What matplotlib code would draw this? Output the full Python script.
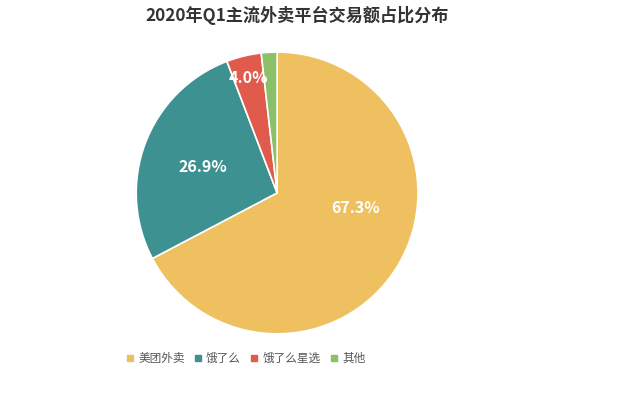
import numpy as np
import matplotlib
matplotlib.use('Agg')
import matplotlib.pyplot as plt

plt.rcParams['font.family'] = ['Noto Sans CJK SC', 'DejaVu Sans']

## data
labels = ['美团外卖', '饿了么', '饿了么星选', '其他']
shares = [67.3, 26.9, 4.0, 1.8]
pct_text = ['67.3%', '26.9%', '4.0%', '']
colors = ['#EEC060', '#3D9291', '#E05B4B', '#8CC068']
## where each percentage label sits (fraction of radius, angle in degrees)
label_r = [0.57, 0.56, 0.84, 0.8]
label_ang = [-11, 161, 104, 95]

fig = plt.figure(figsize=(6.22, 3.97), dpi=100, facecolor='w')
ax = fig.add_axes([0.219, 0.159, 0.453, 0.710])

wedges, _ = ax.pie(shares, colors=colors, startangle=90, counterclock=False,
                   wedgeprops=dict(edgecolor='w', linewidth=1.2))
ax.set_xlim(-1, 1)
ax.set_ylim(-1, 1)
ax.set_aspect('equal')

for txt, r, a in zip(pct_text, label_r, label_ang):
    if not txt:
        continue
    ang = np.deg2rad(a)
    ax.text(r*np.cos(ang), r*np.sin(ang), txt, ha='center', va='center',
            color='w', fontsize=11.5, fontweight='bold')

fig.text(0.477, 0.96, '2020年Q1主流外卖平台交易额占比分布', ha='center', va='center',
         fontsize=12.3, fontweight='bold', color='#333333')

handles = [plt.Line2D([], [], marker='s', ls='', color=c, markersize=4.5) for c in colors]
fig.legend(handles, labels, loc='center', bbox_to_anchor=(0.395, 0.098), ncol=4,
           frameon=False, fontsize=8.4, handlelength=0.7, handletextpad=0.35,
           columnspacing=0.8, labelcolor='#555555')

plt.savefig('out.png', dpi=100)
plt.close()
